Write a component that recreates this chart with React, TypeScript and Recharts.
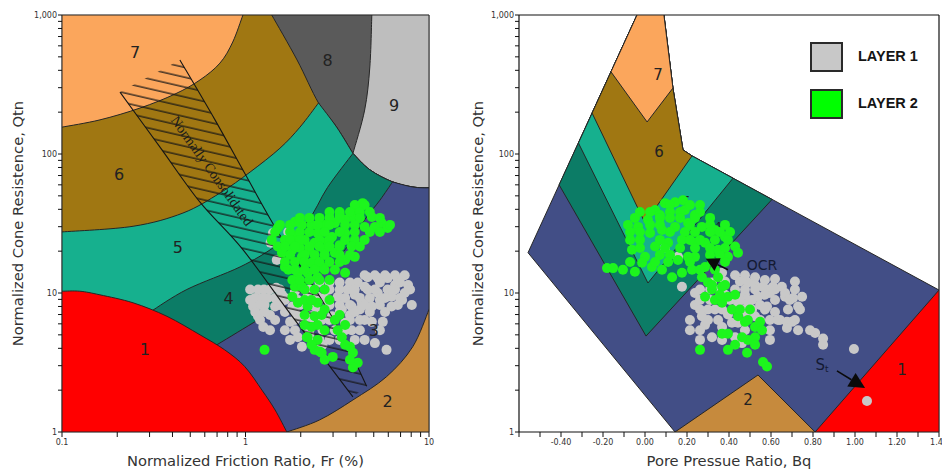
import React from 'react';
import { ScatterChart, Scatter, XAxis, YAxis, Legend } from 'recharts';

type XY = [number, number];
type Pt = { x: number; y: number };
type Piece = { smooth: boolean; pts: Pt[] };

const pts = (a: XY[]): Pt[] => a.map(([x, y]) => ({ x, y }));
const S = (a: XY[]): Piece => ({ smooth: true, pts: pts(a) });
const L = (a: XY[]): Piece => ({ smooth: false, pts: pts(a) });

// ---------- ticks ----------
const FR_TICKS = [0.1, 0.2, 0.3, 0.4, 0.5, 0.6, 0.7, 0.8, 0.9, 1, 2, 3, 4, 5, 6, 7, 8, 9, 10];
const Q_TICKS = [1, 2, 3, 4, 5, 6, 7, 8, 9, 10, 20, 30, 40, 50, 60, 70, 80, 90, 100, 200, 300, 400, 500, 600, 700, 800, 900, 1000];
const BQ_TICKS = [-0.6, -0.5, -0.4, -0.3, -0.2, -0.1, 0, 0.1, 0.2, 0.3, 0.4, 0.5, 0.6, 0.7, 0.8, 0.9, 1.0, 1.1, 1.2, 1.3, 1.4];
const Q_LABELS: Record<number, string> = { 1: '1', 10: '10', 100: '100', 1000: '1,000' };
const FR_LABELS: Record<number, string> = { 0.1: '0.1', 1: '1', 10: '10' };

// ---------- left chart: zone boundaries (Fr %, Qtn) ----------
const BOUND_7_6: XY[] = [[0.1, 156], [0.161, 176], [0.266, 214], [0.413, 270], [0.565, 341], [0.726, 451], [0.852, 639], [0.968, 1000]];
const BOUND_6_5: XY[] = [[0.1, 27.5], [0.244, 30.2], [0.456, 37.6], [0.726, 52.4], [1.06, 74.2], [1.54, 110], [1.98, 156], [2.5, 233]];
const BOUND_8_LEFT: XY[] = [[1.39, 1000], [1.91, 475], [2.5, 233], [3.14, 156], [3.85, 101]];
const BOUND_8_9: XY[] = [[4.88, 1000], [4.76, 423], [4.46, 207], [3.85, 101]];
const BOUND_9_LOW: XY[] = [[3.85, 101], [4.76, 77], [6.33, 63], [8.15, 57.9], [10, 57]];
const BOUND_5_4: XY[] = [[0.302, 7.3], [0.479, 10.6], [0.934, 15.4], [1.45, 21.6], [2.16, 32.5], [2.8, 57.5], [3.85, 101]];
const BOUND_4_3: XY[] = [[0.682, 4.16], [1.1, 6.1], [1.75, 8.9], [2.53, 13.4], [3.49, 20.5], [4.46, 33.6], [5.4, 46.5], [6.33, 63]];
const BOUND_3_2: XY[] = [[1.68, 1], [2.53, 1.22], [3.85, 1.7], [5.87, 2.5], [8.15, 4.1], [10, 7.6]];
const BOUND_1: XY[] = [[0.1, 10.3], [0.125, 10.3], [0.161, 9.7], [0.244, 8.5], [0.373, 6.8], [0.565, 5.0], [0.77, 3.9], [0.99, 2.96], [1.23, 2.0], [1.45, 1.44], [1.68, 1]];
const NC_LEFT: XY[] = [[0.207, 279], [0.342, 112], [0.565, 45], [0.968, 20.5], [1.81, 6.7], [3.85, 1.79]];
const NC_RIGHT: XY[] = [[0.439, 475], [0.682, 176], [1.015, 68.5], [1.48, 28.4], [2.23, 12.4], [3.26, 5.4], [4.58, 2.13]];
const NC_TEXT = [{ x: 0.656, y: 75.5, t: 'Normally Consolidated' }];
const LEFT_ZONE_LABELS = [
  { x: 0.25, y: 533, t: '7' }, { x: 2.8, y: 467, t: '8' }, { x: 6.45, y: 225, t: '9' },
  { x: 0.205, y: 70.7, t: '6' }, { x: 0.428, y: 21.1, t: '5' }, { x: 0.81, y: 9.2, t: '4' },
  { x: 0.283, y: 3.9, t: '1' }, { x: 5.0, y: 5.4, t: '3' }, { x: 5.95, y: 1.67, t: '2' },
];

// ---------- left chart data ----------
const LAYER1_FR: XY[] = [[1.41, 27], [1.37, 23], [1.48, 17.3], [1.71, 27.5], [1.1, 8], [1.17, 6.8], [1.25, 5.7], [1.64, 5.4], [1.32, 9.2], [1.58, 9.7], [1.45, 8], [1.93, 4.8], [2.03, 4.1], [2.38, 4.36], [2.63, 4.24], [2.63, 5.4], [3.79, 5.4], [4.2, 6.4], [4.46, 4.6], [5.07, 4.36], [5.87, 3.9], [4.88, 6.2], [5.6, 6.2], [6.25, 8], [7.37, 10], [8.06, 8.2], [6.76, 12.4], [5.95, 12.8], [5.26, 12.8], [4.63, 13], [4.09, 11.9], [3.6, 10.6], [3.18, 9.4], [2.8, 8.9], [2.47, 9.4], [2.18, 9.4], [1.93, 8.9], [1.8, 8], [4.63, 10.6], [5.26, 10], [5.95, 10.6], [6.25, 9.4], [3.35, 7.6], [3.79, 8], [4.3, 8.5], [4.88, 8], [2.96, 6.8], [2.6, 6.4], [2.29, 6.8], [2.03, 6.8], [1.64, 7.3], [2.38, 8], [3.07, 5.4], [3.49, 6.1], [1.2, 8.2], [1.36, 6.95], [1.75, 6.2], [2.1, 5.9], [2.87, 4.6], [2.23, 5], [3.26, 8.2], [3.94, 9.7], [4.46, 11.1], [5.4, 8.9], [6.53, 11.4], [7.13, 8.9], [7.69, 11.4], [3.71, 6.95], [4.2, 7.6], [2.7, 7.6], [1.86, 10.3], [1.64, 8.9], [1.06, 8.9], [1.26, 10.6], [1.47, 10.9],
  [4.46, 13.4], [5.07, 13.4], [5.76, 13.4], [6.53, 13.4], [7.37, 13.4], [2.53, 11.9], [2.87, 11.9], [3.26, 11.9], [3.71, 11.9], [5.4, 11.9], [6.95, 11.9],
  [1.06, 10.6], [1.17, 10.6], [1.36, 10.6], [1.54, 10.6], [2.23, 10.6], [2.87, 10.6], [3.26, 10.6], [3.94, 10.6], [5.07, 10.6], [6.53, 10.6], [7.88, 10.6],
  [1.13, 9.22], [1.23, 9.22], [1.45, 9.22], [1.64, 9.22], [2.7, 9.22], [3.49, 9.22], [4.2, 9.22], [4.76, 9.22], [5.76, 9.22], [6.95, 9.22],
  [1.27, 8.2], [1.54, 8.2], [1.98, 8.2], [2.87, 8.2], [3.71, 8.2], [4.46, 8.2], [5.4, 8.2], [6.76, 8.2],
  [1.13, 7.3], [1.27, 7.3], [1.86, 7.3], [2.53, 7.3], [3.26, 7.3], [3.94, 7.3], [4.76, 7.3], [5.76, 7.3],
  [1.2, 6.4], [1.45, 6.4], [1.86, 6.4], [2.23, 6.4], [2.87, 6.4], [3.71, 6.4], [4.46, 6.4],
  [1.36, 5.4], [1.86, 5.4], [2.23, 5.4], [3.49, 5.4], [4.2, 5.4], [5.4, 5.4],
  [1.75, 4.6], [2.53, 4.6], [3.26, 4.6], [3.94, 4.6]];
const LAYER2_FR: XY[] = [[4.35, 44.3], [4.09, 39.6], [3.79, 35.2], [3.49, 33.6], [4.88, 35.2], [5.53, 31.9], [5.95, 29.4], [5.07, 29.9], [4.46, 29.9], [3.07, 31.9], [2.7, 30.9], [2.29, 30.9], [2.03, 30.9], [2.47, 27], [2.96, 25.3], [3.49, 27], [3.94, 24.1], [3.79, 21.6], [3.94, 18.2], [3.49, 17.3], [3.07, 19.5], [2.7, 20.5], [2.38, 23], [2.1, 24.1], [1.86, 25.3], [1.64, 24.1], [1.5, 21.6], [1.58, 19.5], [1.8, 20.5], [2.03, 18.2], [2.29, 16.5], [2.6, 15.4], [3.07, 14.7], [3.49, 14], [2.47, 13], [2.18, 14], [1.93, 14], [1.71, 14.7], [1.64, 15.4], [1.86, 11.1], [1.8, 9.4], [1.93, 8.5], [2.18, 8], [2.47, 8.5], [2.7, 7.6], [2.38, 6.8], [2.29, 5.7], [2.18, 4.8], [2.47, 4.6], [2.7, 5.4], [2.38, 3.9], [2.6, 3.72], [3.07, 6.4], [3.18, 5.4], [3.35, 4.8], [3.71, 4.1], [3.85, 3.72], [4.09, 3.15], [3.85, 2.91], [2.99, 3.47], [1.27, 3.9], [2.03, 11.1], [1.8, 12.4], [2.53, 3.8], [2.16, 4.8], [1.39, 24.1], [1.5, 29.4], [1.86, 32.5], [2.87, 38.3], [3.26, 36.4], [1.75, 27.5], [1.98, 21.1], [2.23, 20.5], [2.8, 23.6], [3.26, 22.1],
  [3.94, 43], [4.46, 43], [3.26, 38.3], [3.71, 38.3], [4.2, 38.3], [4.76, 38.3],
  [1.98, 34.7], [2.23, 34.7], [2.53, 34.7], [2.87, 34.7], [3.26, 34.7], [4.2, 34.7], [5.4, 34.7],
  [1.54, 30.9], [1.75, 30.9], [2.47, 30.9], [2.87, 30.9], [3.49, 30.9], [3.94, 30.9], [6.13, 30.9],
  [1.45, 27.5], [1.98, 27.5], [2.23, 27.5], [2.7, 27.5], [3.26, 27.5], [3.94, 27.5], [4.76, 27.5], [5.4, 27.5],
  [1.75, 24.1], [1.98, 24.1], [2.53, 24.1], [2.87, 24.1], [3.49, 24.1], [4.46, 24.1],
  [1.64, 21.6], [1.86, 21.6], [2.23, 21.6], [2.53, 21.6], [2.87, 21.6], [3.26, 21.6], [4.2, 21.6],
  [1.75, 18.8], [2.1, 18.8], [2.38, 18.8], [2.7, 18.8], [3.26, 18.8], [3.71, 18.8],
  [1.64, 16.7], [1.86, 16.7], [2.1, 16.7], [2.53, 16.7], [2.87, 16.7], [3.26, 16.7],
  [1.86, 14.7], [2.1, 14.7], [2.38, 14.7], [2.7, 14.7],
  [1.98, 12.4], [2.23, 12.4], [2.53, 12.4], [2.87, 12.4],
  [2.1, 10.6], [2.38, 10.6], [2.7, 10.6], [2.1, 8.9], [2.29, 8.9], [2.87, 8.9],
  [2.1, 6.95], [2.6, 6.95], [3.26, 6.95], [2.1, 5.89], [2.47, 5.89], [3.49, 5.89],
  [2.29, 4.24], [3.49, 4.24], [2.7, 3.31], [3.71, 3.31]];

// ---------- right chart: zones (Bq, Qtn) ----------
const ENVELOPE_BQ: XY[] = [[-0.038, 1000], [0.09, 1000], [0.133, 298], [0.181, 107], [0.224, 96.9], [1.4, 10.5], [1.4, 1], [0.143, 1], [-0.557, 19.5]];
const ZONE4_BQ: XY[] = [[-0.409, 60], [0.005, 4.9], [0.605, 47.1], [0.224, 96.9], [0.181, 107], [0.133, 298], [0.09, 1000], [-0.038, 1000]];
const ZONE5_BQ: XY[] = [[-0.317, 120], [0.014, 11.8], [0.419, 67], [0.224, 96.9], [0.181, 107], [0.133, 298], [0.09, 1000], [-0.038, 1000]];
const ZONE6_BQ: XY[] = [[-0.252, 197], [0, 31.9], [0.224, 96.9], [0.181, 107], [0.133, 298], [0.09, 1000], [-0.038, 1000]];
const ZONE7_BQ: XY[] = [[-0.162, 390], [0.01, 170], [0.133, 298], [0.09, 1000], [-0.038, 1000]];
const ZONE2_BQ: XY[] = [[0.143, 1], [0.538, 2.57], [0.81, 1]];
const ZONE1_BQ: XY[] = [[0.81, 1], [1.4, 10.5], [1.4, 1]];
const RIGHT_ZONE_LABELS = [
  { x: 0.062, y: 370, t: '7' }, { x: 0.067, y: 103, t: '6' }, { x: 0.195, y: 44.4, t: '5' },
  { x: 0.49, y: 1.7, t: '2' }, { x: 1.224, y: 2.79, t: '1' },
];
const RIGHT_SMALL_LABELS = [{ x: 0.348, y: 29.9, t: '4' }];
const OCR_ARROW: XY[] = [[0.395, 14.7], [0.29, 17.6]];
const ST_ARROW: XY[] = [[0.914, 2.75], [1.048, 2.07]];
const OCR_TEXT = [{ x: 0.557, y: 15.8, t: 'OCR' }];
const ST_TEXT = [{ x: 0.843, y: 3.05, t: 'S' }];

const LAYER1_BQ: XY[] = [[0.095, 21.1], [0.157, 18.2], [0.238, 10], [0.238, 8.2], [0.271, 6.8], [0.3, 7.6], [0.319, 4.8], [0.367, 5.7], [0.414, 6.1], [0.443, 6.1], [0.49, 11.9], [0.524, 13], [0.571, 12.4], [0.619, 12.6], [0.652, 11.1], [0.586, 10.6], [0.538, 9.4], [0.49, 8.5], [0.443, 8.5], [0.429, 10.6], [0.633, 6.4], [0.667, 9.4], [0.524, 6.8], [0.462, 7.6], [0.367, 14], [0.319, 11.9], [0.429, 4.8], [0.462, 4.36], [0.176, 11.1], [0.562, 11.1], [0.61, 11.1], [0.667, 10], [0.705, 9.2], [0.748, 9.4], [0.729, 8], [0.681, 7.6], [0.643, 6.4], [0.676, 6.2], [0.7, 6.2], [0.676, 5.6], [0.729, 5.4], [0.81, 5.15], [0.848, 4.7], [0.848, 4.24], [0.995, 3.96], [1.057, 1.67], [0.595, 10], [0.581, 8], [0.619, 7.3], [0.262, 8.9], [0.333, 7.6], [0.381, 9.7], [0.476, 9.7], [0.548, 8.2], [0.395, 7], [0.286, 5.9], [0.348, 6.4], [0.49, 7], [0.571, 9.7], [0.524, 11.4],
  [0.429, 13.4], [0.476, 13.4], [0.381, 12.1], [0.452, 12.1], [0.714, 12.1],
  [0.262, 10.6], [0.31, 10.6], [0.357, 10.6], [0.476, 10.6], [0.524, 10.6], [0.619, 10.6], [0.714, 10.6],
  [0.31, 8.9], [0.405, 8.9], [0.452, 8.9], [0.51, 8.9], [0.619, 8.9], [0.69, 8.9],
  [0.262, 7.6], [0.367, 7.6], [0.51, 7.6], [0.571, 7.6], [0.738, 7.6],
  [0.214, 6.4], [0.3, 6.4], [0.548, 6.4], [0.595, 6.4], [0.714, 6.4],
  [0.214, 5.4], [0.262, 5.4], [0.476, 5.4], [0.595, 5.4], [0.786, 5.4],
  [0.262, 4.6], [0.367, 4.6], [0.595, 4.6]];
const LAYER2_BQ: XY[] = [[-0.181, 15.1], [-0.152, 15.1], [-0.105, 14.7], [-0.048, 14.2], [-0.081, 30.9], [-0.033, 29.9], [0.014, 33.6], [0.048, 39.6], [0.095, 44.3], [0.143, 45], [0.081, 28.4], [0.143, 29.9], [0.205, 31.9], [0.271, 29.9], [0.333, 28.4], [0.381, 25.3], [0.429, 21.6], [0.443, 19.5], [0.395, 18.2], [0.348, 20.5], [0.286, 23], [0.238, 23], [0.176, 24.1], [0.11, 23], [0.048, 21.6], [0, 18.2], [-0.014, 16.5], [0.033, 15.4], [0.081, 14.7], [0.129, 13], [0.176, 14], [0.224, 14.7], [0.271, 13], [0.3, 11.9], [0.319, 10.6], [0.333, 8.9], [0.367, 8.5], [0.395, 9.4], [0.414, 7.6], [0.443, 6.8], [0.49, 6.4], [0.524, 5.7], [0.557, 5.4], [0.524, 4.8], [0.49, 4.6], [0.462, 4.8], [0.395, 5.1], [0.367, 5.1], [0.395, 3.9], [0.486, 3.72], [0.562, 3.19], [0.581, 2.96], [0.262, 3.9], [0.238, 18.2], [0.205, 18.2], [0.157, 17.3], [0.286, 15.4], [0.348, 13], [0.367, 11.1], [0.286, 9.4], [-0.024, 24.1], [0.071, 36.4], [0.19, 39.6], [0.238, 36.4], [0.024, 27], [-0.062, 20.5], [0.181, 46.5], [0.262, 42.9], [-0.071, 27.5],
  [0.119, 42.9], [0.214, 42.9], [-0.024, 38.3], [0.024, 38.3], [0.119, 38.3], [0.167, 38.3], [0.262, 38.3],
  [-0.048, 34.7], [0.071, 34.7], [0.119, 34.7], [0.167, 34.7], [0.238, 34.7], [0.31, 34.7],
  [0.024, 30.9], [0.071, 30.9], [0.214, 30.9], [0.31, 30.9], [0.381, 30.9],
  [-0.024, 27.5], [0.119, 27.5], [0.19, 27.5], [0.238, 27.5], [0.31, 27.5], [0.357, 27.5], [0.405, 27.5],
  [-0.071, 24.1], [0.071, 24.1], [0.214, 24.1], [0.262, 24.1], [0.333, 24.1], [0.395, 24.1],
  [-0.024, 21.1], [0.095, 21.1], [0.167, 21.1], [0.238, 21.1], [0.31, 21.1], [0.381, 21.1],
  [0.071, 18.8], [0.119, 18.8], [0.31, 18.8], [0.357, 18.8],
  [-0.071, 16.7], [0.048, 16.7], [0.11, 16.7], [0.214, 16.7], [0.319, 16.7], [0.381, 16.7],
  [0.262, 14.7], [0.333, 14.7], [0.319, 11.4], [0.381, 11.4], [0.357, 9.7], [0.429, 9.7],
  [0.452, 7.6], [0.5, 7.6], [0.476, 6.2], [0.548, 6.2], [0.524, 4.24], [0.429, 4.24]];

// ---------- styles ----------
const COL = { z1: '#FF0000', z2: '#C68A3D', z3: '#424E86', z4: '#0C7C66', z5: '#16B08E', z6: '#A07712', z7: '#FBA65C', z8: '#5A5A5A', z9: '#BEBEBE' };
const GRAY = '#C8C8C8';
const GREEN = '#1DF51D';
const FONT = "'DejaVu Sans', sans-serif";
const EDGE = '#262626';

function buildPath(points: Pt[], lens: number[], smooth: boolean[], closed: boolean) {
  let d = '';
  let idx = 0;
  lens.forEach((len, pi) => {
    const seg = points.slice(idx, idx + len);
    idx += len;
    if (!seg.length) return;
    d += (d === '' ? 'M' : 'L') + seg[0].x + ',' + seg[0].y;
    if (smooth[pi] && seg.length > 2) {
      for (let i = 0; i < seg.length - 1; i++) {
        const p0 = seg[i - 1] || seg[i];
        const p1 = seg[i];
        const p2 = seg[i + 1];
        const p3 = seg[i + 2] || seg[i + 1];
        const c1x = p1.x + (p2.x - p0.x) / 6;
        const c1y = p1.y + (p2.y - p0.y) / 6;
        const c2x = p2.x - (p3.x - p1.x) / 6;
        const c2y = p2.y - (p3.y - p1.y) / 6;
        d += `C${c1x},${c1y} ${c2x},${c2y} ${p2.x},${p2.y}`;
      }
    } else {
      for (let i = 1; i < seg.length; i++) d += `L${seg[i].x},${seg[i].y}`;
    }
  });
  if (closed) d += 'Z';
  return d;
}

const NoDot = () => <g />;

function shapeSeries(key: string, pieces: Piece[], render: (d: string) => React.ReactElement, closed = true) {
  const data = pieces.flatMap((p) => p.pts);
  const lens = pieces.map((p) => p.pts.length);
  const sm = pieces.map((p) => p.smooth);
  return (
    <Scatter
      key={key}
      name={key}
      data={data}
      isAnimationActive={false}
      shape={NoDot}
      lineType="joint"
      line={(props: any) => render(buildPath(props.points, lens, sm, closed))}
    />
  );
}

const zoneSeries = (key: string, pieces: Piece[], fill: string) =>
  shapeSeries(key, pieces, (d) => <path d={d} fill={fill} stroke={EDGE} strokeWidth={1} />);

const dotShape = (fill: string) => (props: any) => <circle cx={props.cx} cy={props.cy} r={5} fill={fill} />;

const textShape = (size: number, color = '#222', family = FONT, rotate = 0) => (props: any) => {
  const t = props.payload?.t ?? props.t;
  return (
    <text
      x={props.cx}
      y={props.cy}
      textAnchor="middle"
      dominantBaseline="central"
      fontSize={size}
      fontFamily={family}
      fill={color}
      transform={rotate ? `rotate(${rotate} ${props.cx} ${props.cy})` : undefined}
    >
      {t}
    </text>
  );
};

const stShape = (props: any) => (
  <text x={props.cx} y={props.cy} textAnchor="middle" dominantBaseline="central" fontSize={15} fontFamily={FONT} fill="#141a33">
    S<tspan fontSize={9} dy={4}>t</tspan>
  </text>
);

function arrowEl(points: Pt[], color: string, len: number, half: number) {
  const a = points[0];
  const b = points[points.length - 1];
  const ang = Math.atan2(b.y - a.y, b.x - a.x);
  const bx = b.x - len * Math.cos(ang);
  const by = b.y - len * Math.sin(ang);
  const nx = -Math.sin(ang) * half;
  const ny = Math.cos(ang) * half;
  return (
    <g>
      <line x1={a.x} y1={a.y} x2={bx} y2={by} stroke={color} strokeWidth={1.5} />
      <polygon points={`${b.x},${b.y} ${bx + nx},${by + ny} ${bx - nx},${by - ny}`} fill={color} />
    </g>
  );
}

const arrowSeries = (key: string, a: XY[], len: number, half: number) => (
  <Scatter
    key={key}
    data={pts(a)}
    isAnimationActive={false}
    shape={NoDot}
    lineType="joint"
    line={(props: any) => arrowEl(props.points, '#0a0a0a', len, half)}
  />
);

const tickStyle = { fontSize: 8, fill: '#333', fontFamily: FONT };
const axisLineStyle = { stroke: '#111', strokeWidth: 1.2 };
const titleStyle = { fontSize: 14.7, fill: '#333', fontFamily: FONT };

function LegendBox() {
  const item = (top: number, color: string, label: string) => (
    <div style={{ position: 'absolute', left: 0, top, height: 30, width: 140 }}>
      <div style={{ position: 'absolute', left: 0, top: 0, width: 29, height: 26, background: color, border: '2px solid #2a2a2a' }} />
      <div style={{ position: 'absolute', left: 48, top: 6, fontFamily: "'Liberation Sans', Arial, sans-serif", fontWeight: 'bold', fontSize: 14.5, color: '#151515', whiteSpace: 'nowrap' }}>
        {label}
      </div>
    </div>
  );
  return (
    <div style={{ position: 'relative', width: 140, height: 80 }}>
      {item(0, GRAY, 'LAYER 1')}
      {item(47, '#00FF00', 'LAYER 2')}
    </div>
  );
}

function LeftChart() {
  const zones: { key: string; fill: string; pieces: Piece[] }[] = [
    { key: 'z7', fill: COL.z7, pieces: [L([[0.1, 1000], [10, 1000], [10, 1], [0.1, 1]])] },
    { key: 'z6', fill: COL.z6, pieces: [S(BOUND_7_6), L([[10, 1000], [10, 1], [0.1, 1]])] },
    { key: 'z8', fill: COL.z8, pieces: [S(BOUND_8_LEFT), S(BOUND_9_LOW), L([[10, 1000]])] },
    { key: 'z9', fill: COL.z9, pieces: [S(BOUND_8_9), S(BOUND_9_LOW), L([[10, 1000]])] },
    { key: 'z5', fill: COL.z5, pieces: [S(BOUND_6_5), S(BOUND_8_LEFT.slice(2)), S(BOUND_9_LOW), L([[10, 1], [0.1, 1]])] },
    { key: 'z4', fill: COL.z4, pieces: [L([[0.1, 1], [0.1, 7.3]]), S(BOUND_5_4), S(BOUND_9_LOW), L([[10, 1]])] },
    { key: 'z3', fill: COL.z3, pieces: [L([[0.1, 1], [0.1, 4.16]]), S(BOUND_4_3), S(BOUND_9_LOW.slice(2)), L([[10, 1]])] },
    { key: 'z2', fill: COL.z2, pieces: [S(BOUND_3_2), L([[10, 1]])] },
    { key: 'z1', fill: COL.z1, pieces: [L([[0.1, 1]]), S(BOUND_1)] },
  ];
  const band: Piece[] = [S(NC_LEFT), S([...NC_RIGHT].reverse())];
  return (
    <ScatterChart width={470} height={473} margin={{ top: 14, right: 40, bottom: 0, left: 0 }}>
      {zones.map((z) => zoneSeries(z.key, z.pieces, z.fill))}
      <Scatter data={pts(LAYER1_FR)} isAnimationActive={false} shape={dotShape(GRAY)} />
      {shapeSeries('ncband', band, (d) => (
        <g>
          <defs>
            <pattern id="ncHatch" patternUnits="userSpaceOnUse" width="40" height="9.6" patternTransform="rotate(13)">
              <line x1="0" y1="4.8" x2="40" y2="4.8" stroke="#151515" strokeWidth="1.2" />
            </pattern>
          </defs>
          <path d={d} fill="url(#ncHatch)" stroke="none" />
        </g>
      ))}
      {shapeSeries('ncL', [S(NC_LEFT)], (d) => <path d={d} fill="none" stroke="#151515" strokeWidth={1.1} />, false)}
      {shapeSeries('ncR', [S(NC_RIGHT)], (d) => <path d={d} fill="none" stroke="#151515" strokeWidth={1.1} />, false)}
      <Scatter data={NC_TEXT} isAnimationActive={false} shape={textShape(14, '#1a1a1a', "'Liberation Serif', serif", 54.5)} />
      <Scatter data={LEFT_ZONE_LABELS} isAnimationActive={false} shape={textShape(16)} />
      <Scatter data={pts(LAYER2_FR)} isAnimationActive={false} shape={dotShape(GREEN)} />
      <XAxis
        dataKey="x" type="number" scale="log" domain={[0.1, 10]} ticks={FR_TICKS} interval={0} allowDataOverflow
        tickFormatter={(v: number) => FR_LABELS[v] ?? ''} tick={tickStyle} tickSize={5} axisLine={axisLineStyle} tickLine={{ stroke: '#111' }}
        height={41}
        label={{ value: 'Normalized Friction Ratio, Fr (%)', position: 'insideBottom', offset: 7, ...titleStyle }}
      />
      <XAxis xAxisId="top" orientation="top" dataKey="x" type="number" scale="log" domain={[0.1, 10]} ticks={FR_TICKS} interval={0} allowDataOverflow
        tick={false} tickSize={4} height={1} axisLine={axisLineStyle} tickLine={{ stroke: '#111' }} />
      <YAxis
        dataKey="y" type="number" scale="log" domain={[1, 1000]} ticks={Q_TICKS} interval={0} allowDataOverflow
        tickFormatter={(v: number) => Q_LABELS[v] ?? ''} tick={tickStyle} tickSize={4} tickMargin={1} axisLine={axisLineStyle} tickLine={{ stroke: '#111' }}
        width={62}
        label={{ value: 'Normalized Cone Resistence, Qtn', angle: -90, position: 'insideLeft', offset: 17.5, style: { textAnchor: 'middle' }, ...titleStyle }}
      />
      <YAxis yAxisId="right" orientation="right" dataKey="y" type="number" scale="log" domain={[1, 1000]} ticks={Q_TICKS} interval={0} allowDataOverflow
        tick={false} tickSize={4} width={1} axisLine={axisLineStyle} tickLine={{ stroke: '#111' }} />
    </ScatterChart>
  );
}

function RightChart() {
  return (
    <ScatterChart width={480} height={473} margin={{ top: 14, right: 2, bottom: 0, left: 0 }}>
      {zoneSeries('env', [L(ENVELOPE_BQ)], COL.z3)}
      {zoneSeries('r4', [L(ZONE4_BQ)], COL.z4)}
      {zoneSeries('r5', [L(ZONE5_BQ)], COL.z5)}
      {zoneSeries('r6', [L(ZONE6_BQ)], COL.z6)}
      {zoneSeries('r7', [L(ZONE7_BQ)], COL.z7)}
      {zoneSeries('r2', [L(ZONE2_BQ)], COL.z2)}
      {zoneSeries('r1', [L(ZONE1_BQ)], COL.z1)}
      <Scatter data={RIGHT_ZONE_LABELS} isAnimationActive={false} shape={textShape(15)} />
      <Scatter data={RIGHT_SMALL_LABELS} isAnimationActive={false} shape={textShape(11)} />
      <Scatter data={pts(LAYER1_BQ)} isAnimationActive={false} shape={dotShape(GRAY)} />
      <Scatter data={pts(LAYER2_BQ)} isAnimationActive={false} shape={dotShape(GREEN)} />
      {arrowSeries('ocrArrow', OCR_ARROW, 13, 7)}
      {arrowSeries('stArrow', ST_ARROW, 16, 8)}
      <Scatter data={OCR_TEXT} isAnimationActive={false} shape={textShape(14, '#141a33')} />
      <Scatter data={ST_TEXT} isAnimationActive={false} shape={stShape} />
      <XAxis
        dataKey="x" type="number" domain={[-0.6, 1.4]} ticks={BQ_TICKS} interval={0} allowDataOverflow
        tickFormatter={(v: number) => { const k = Math.round(v * 10); return k % 2 === 0 && k > -6 ? v.toFixed(2) : ''; }}
        tick={tickStyle} tickSize={5} axisLine={axisLineStyle} tickLine={{ stroke: '#111' }} height={41}
        label={{ value: 'Pore Pressue Ratio, Bq', position: 'insideBottom', offset: 7, ...titleStyle }}
      />
      <XAxis xAxisId="top" orientation="top" dataKey="x" type="number" domain={[-0.6, 1.4]} ticks={BQ_TICKS} interval={0} allowDataOverflow
        tick={false} tickSize={4} height={1} axisLine={axisLineStyle} tickLine={{ stroke: '#111' }} />
      <YAxis
        dataKey="y" type="number" scale="log" domain={[1, 1000]} ticks={Q_TICKS} interval={0} allowDataOverflow
        tickFormatter={(v: number) => Q_LABELS[v] ?? ''} tick={tickStyle} tickSize={4} tickMargin={1} axisLine={axisLineStyle} tickLine={{ stroke: '#111' }}
        width={57}
        label={{ value: 'Normalized Cone Resistence, Qtn', angle: -90, position: 'insideLeft', offset: 15.5, style: { textAnchor: 'middle' }, ...titleStyle }}
      />
      <YAxis yAxisId="right" orientation="right" dataKey="y" type="number" scale="log" domain={[1, 1000]} ticks={Q_TICKS} interval={0} allowDataOverflow
        tick={false} tickSize={4} width={1} axisLine={axisLineStyle} tickLine={{ stroke: '#111' }} />
      <Legend
        layout="horizontal" verticalAlign="middle" align="center"
        wrapperStyle={{ position: 'absolute', left: 348, top: 42, width: 140, height: 80 }}
        content={() => <LegendBox />}
      />
    </ScatterChart>
  );
}

export default function App() {
  return (
    <div style={{ position: 'absolute', left: 0, top: 0, width: 942, height: 473, background: '#fff', overflow: 'hidden' }}>
      <div style={{ position: 'absolute', left: 0, top: 0 }}>
        <LeftChart />
      </div>
      <div style={{ position: 'absolute', left: 462, top: 0 }}>
        <RightChart />
      </div>
    </div>
  );
}
